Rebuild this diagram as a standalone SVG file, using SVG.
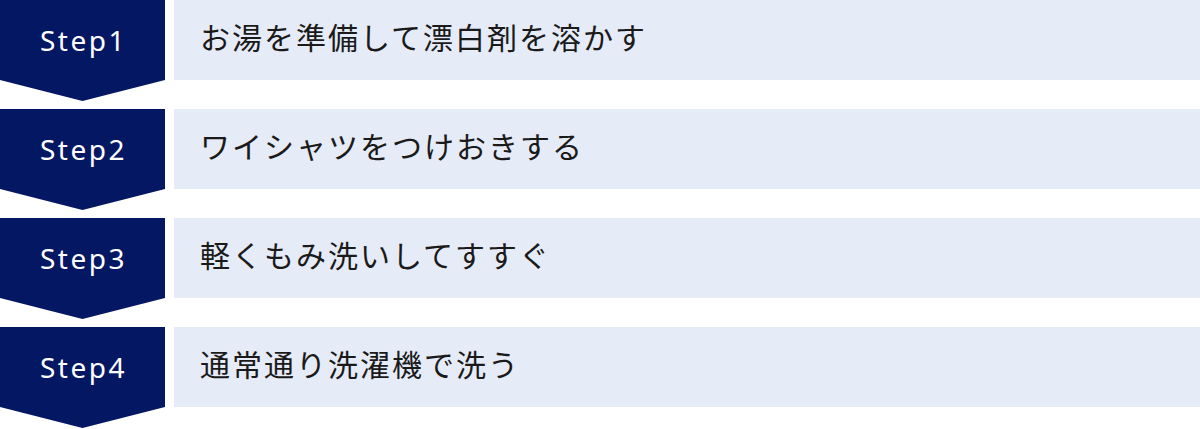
<svg xmlns="http://www.w3.org/2000/svg" width="1200" height="429" viewBox="0 0 1200 429">
  <style>
    .badge { fill: #041762; }
    .panel { fill: #E6EBF8; }
    .step { font-family: "Noto Sans", "Liberation Sans", sans-serif; font-size: 28px; letter-spacing: 2.5px; fill: #FFFFFF; text-anchor: middle; }
    .label { font-family: "Noto Sans CJK JP", "Noto Sans", sans-serif; font-size: 30px; letter-spacing: 2px; fill: #1A1A1A; }
  </style>
  <rect x="0" y="0" width="1200" height="429" fill="#FFFFFF"/>
  <g id="step1">
    <polygon class="badge" points="0,0 165,0 165,80 82.5,101 0,80"/>
    <rect class="panel" x="174" y="0" width="1026" height="80"/>
    <text class="step" x="83.5" y="51">Step1</text>
    <text class="label" x="200" y="49">お湯を準備して漂白剤を溶かす</text>
  </g>
  <g id="step2">
    <polygon class="badge" points="0,109 165,109 165,189 82.5,210 0,189"/>
    <rect class="panel" x="174" y="109" width="1026" height="80"/>
    <text class="step" x="83.5" y="160">Step2</text>
    <text class="label" x="200" y="158">ワイシャツをつけおきする</text>
  </g>
  <g id="step3">
    <polygon class="badge" points="0,218 165,218 165,298 82.5,319 0,298"/>
    <rect class="panel" x="174" y="218" width="1026" height="80"/>
    <text class="step" x="83.5" y="269">Step3</text>
    <text class="label" x="200" y="267">軽くもみ洗いしてすすぐ</text>
  </g>
  <g id="step4">
    <polygon class="badge" points="0,327 165,327 165,407 82.5,428 0,407"/>
    <rect class="panel" x="174" y="327" width="1026" height="80"/>
    <text class="step" x="83.5" y="378">Step4</text>
    <text class="label" x="200" y="376">通常通り洗濯機で洗う</text>
  </g>
  <g id="connectors"/>
</svg>
